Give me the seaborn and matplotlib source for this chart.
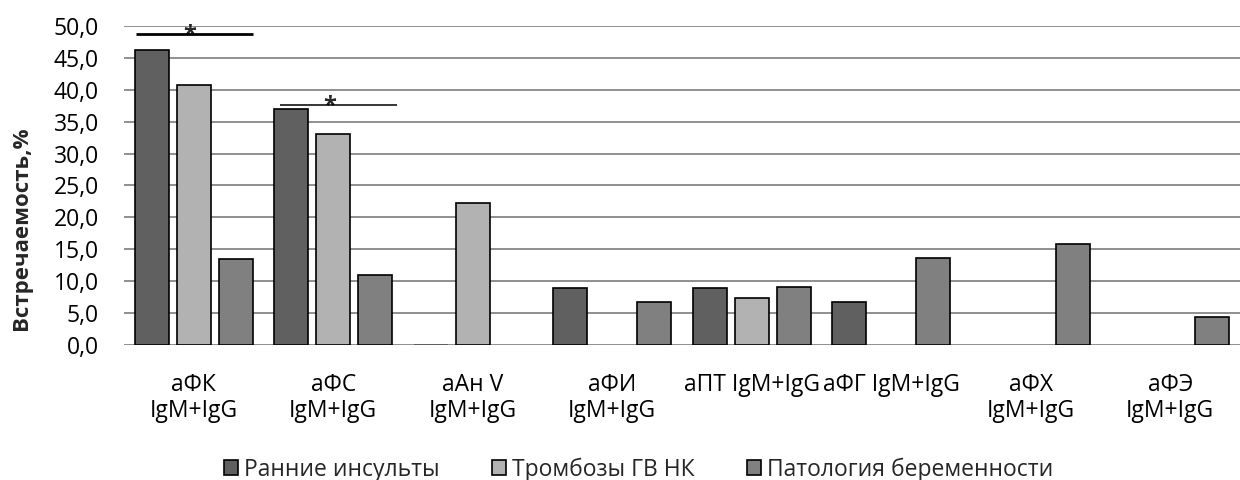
import matplotlib
matplotlib.use("Agg")
import matplotlib.pyplot as plt
import seaborn as sns
import pandas as pd

# Antiphospholipid antibody markers (x-axis categories)
markers = [
    "аФК\nIgM+IgG",
    "аФС\nIgM+IgG",
    "аАн V\nIgM+IgG",
    "аФИ\nIgM+IgG",
    "аПТ IgM+IgG",
    "аФГ IgM+IgG",
    "аФХ\nIgM+IgG",
    "аФЭ\nIgM+IgG",
]

# Patient groups (legend entries)
groups = ["Ранние инсульты", "Тромбозы ГВ НК", "Патология беременности"]

# Occurrence, % per marker
early_strokes = [46.2, 37.0, 0.2, 8.9, 8.9, 6.7, 0.0, 0.0]
thromboses = [40.7, 33.0, 22.2, 0.0, 7.4, 0.0, 0.0, 0.0]
pregnancy = [13.5, 11.0, 0.0, 6.8, 9.1, 13.6, 15.9, 4.5]

y_ticks = [0, 5, 10, 15, 20, 25, 30, 35, 40, 45, 50]
y_tick_labels = ["0,0", "5,0", "10,0", "15,0", "20,0", "25,0",
                 "30,0", "35,0", "40,0", "45,0", "50,0"]

palette = ["#606060", "#b2b2b2", "#808080"]

df = pd.DataFrame({
    "marker": markers * 3,
    "group": [groups[0]] * 8 + [groups[1]] * 8 + [groups[2]] * 8,
    "value": early_strokes + thromboses + pregnancy,
})

sns.set_style("white")
plt.rcParams["font.family"] = ["Open Sans", "DejaVu Sans"]

fig = plt.figure(figsize=(12.4, 4.8), dpi=100)
ax = fig.add_axes([0.1, 0.2806, 0.9, 0.6659])

sns.barplot(
    data=df, x="marker", y="value", hue="group",
    order=markers, hue_order=groups, palette=palette,
    width=0.9, gap=0.19, edgecolor="black", linewidth=1.2,
    errorbar=None, ax=ax, zorder=3,
)

# Empty or near-zero bars: no outline
for p in ax.patches:
    if p.get_height() < 0.5:
        p.set_linewidth(0)

ax.set_ylim(0, 50)
ax.set_xlim(-0.5, len(markers) - 0.5)
ax.set_yticks(y_ticks)
ax.set_yticklabels(y_tick_labels)
ax.tick_params(axis="y", length=0, pad=18, labelsize=16.5, colors="black")
ax.tick_params(axis="x", length=0, pad=20, labelsize=16.5, colors="black")
for lbl in ax.get_xticklabels():
    lbl.set_linespacing(1.1)

ax.yaxis.grid(True, color="#878787", linewidth=1.3)
ax.xaxis.grid(False)
ax.set_axisbelow(True)
for s in ax.spines.values():
    s.set_visible(False)

ax.set_xlabel("")
ax.set_ylabel("")
fig.text(22 / 1240, 1 - 228 / 480, "Встречаемость,%", rotation=90,
         ha="center", va="center", fontsize=16, fontweight="bold")

# Significance brackets
ax.plot([-0.414, 0.427], [48.7, 48.7], color="black", linewidth=2.0,
        solid_capstyle="butt", clip_on=False, zorder=4)
ax.text(-0.027, 47.6, "*", ha="center", va="baseline", fontsize=17,
        fontweight="bold", clip_on=False)
ax.plot([0.618, 1.455], [37.64, 37.64], color="black", linewidth=1.1,
        solid_capstyle="butt", clip_on=False, zorder=4)
ax.text(0.977, 36.5, "*", ha="center", va="baseline", fontsize=17,
        fontweight="bold", clip_on=False)

handles, labels = ax.get_legend_handles_labels()
leg = ax.legend(
    handles, labels, loc="center", bbox_to_anchor=(0.515, 0.022),
    bbox_transform=fig.transFigure, ncol=3, frameon=False, fontsize=16.5,
    handlelength=0.62, handleheight=0.62, handletextpad=0.25,
    columnspacing=2.3, borderpad=0,
)
for h in leg.legend_handles:
    h.set_edgecolor("black")
    h.set_linewidth(1.2)

fig.savefig("out.png", dpi=100)
